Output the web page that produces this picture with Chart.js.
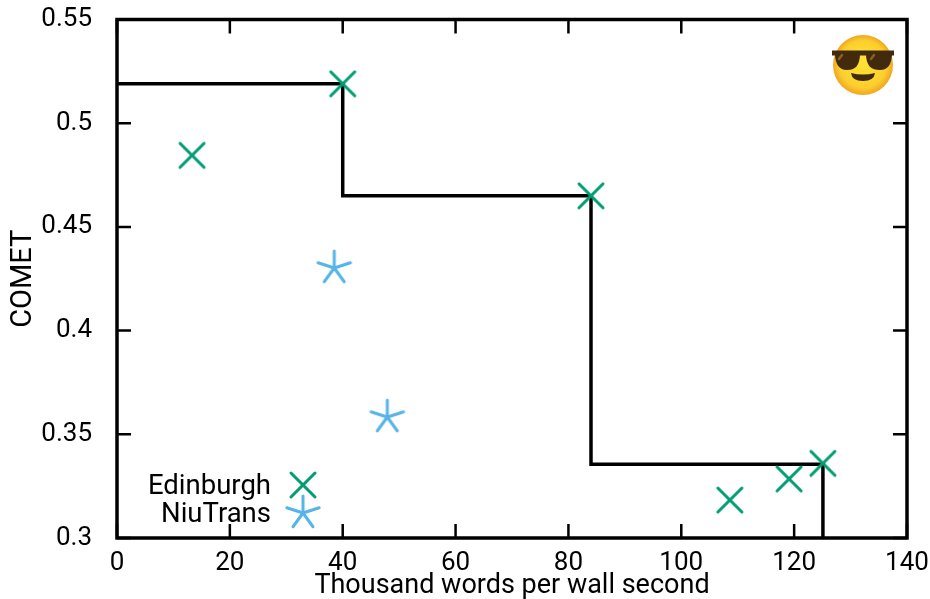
<!DOCTYPE html>
<html>
<head>
<meta charset="utf-8">
<style>
  html, body { margin: 0; padding: 0; background: #fff; }
  canvas { display: block; }
</style>
<script src="https://cdn.jsdelivr.net/npm/chart.js@4/dist/chart.umd.min.js"></script>
</head>
<body>
<canvas id="chart" width="930" height="599"></canvas>
<script>
const xTicks = [0, 20, 40, 60, 80, 100, 120, 140];
const yTicks = [0.3, 0.35, 0.4, 0.45, 0.5, 0.55];

const edinburghX = [13.3, 40, 84, 108.6, 119.1, 125.1];
const edinburghY = [0.4845, 0.519, 0.465, 0.3183, 0.3285, 0.336];
const niuTransX = [38.5, 47.9];
const niuTransY = [0.4302, 0.3583];
const frontierX = [0, 40, 84, 125.1];
const frontierY = [0.519, 0.465, 0.3355, 0.3];

const GREEN = '#009e73';
const BLUE = '#56b4e9';
const FONT = 'Roboto';
const TEXT_FONT = { family: FONT, size: 27, weight: '400' };
const TICK_FONT = { family: FONT, size: 26, weight: '400' };

function toPoints(xs, ys) {
    return xs.map((x, i) => ({ x: x, y: ys[i] }));
}

// gnuplot style markers, chart.js has no 5 arm star
function markerCanvas(color, arms, startAngle, radius) {
    const size = radius * 2 + 6;
    const c = document.createElement('canvas');
    c.width = size;
    c.height = size;
    const g = c.getContext('2d');
    g.strokeStyle = color;
    g.lineWidth = 3;
    g.lineCap = 'round';
    g.translate(size / 2, size / 2);
    for (let i = 0; i < arms; i++) {
        const a = startAngle + i * 2 * Math.PI / arms;
        g.beginPath();
        g.moveTo(0, 0);
        g.lineTo(radius * Math.cos(a), radius * Math.sin(a));
        g.stroke();
    }
    return c;
}

const crossMarker = markerCanvas(GREEN, 4, Math.PI / 4, 17);
const starMarker = markerCanvas(BLUE, 5, -Math.PI / 2, 17);

const innerTicks = {
    id: 'innerTicks',
    afterDatasetsDraw(chart) {
        const { ctx, chartArea: a, scales } = chart;
        const len = 14;
        ctx.save();
        ctx.strokeStyle = '#000';
        ctx.lineWidth = 2.5;
        ctx.beginPath();
        xTicks.forEach(v => {
            const px = scales.x.getPixelForValue(v);
            ctx.moveTo(px, a.bottom); ctx.lineTo(px, a.bottom - len);
            ctx.moveTo(px, a.top); ctx.lineTo(px, a.top + len);
        });
        yTicks.forEach(v => {
            const py = scales.y.getPixelForValue(v);
            ctx.moveTo(a.left, py); ctx.lineTo(a.left + len, py);
            ctx.moveTo(a.right, py); ctx.lineTo(a.right - len, py);
        });
        ctx.stroke();
        ctx.lineWidth = 3.5;
        ctx.strokeRect(a.left, a.top, a.right - a.left, a.bottom - a.top);
        ctx.restore();
    }
};

const keyBox = {
    id: 'keyBox',
    afterDatasetsDraw(chart) {
        const ctx = chart.ctx;
        const rows = [
            { label: 'Edinburgh', marker: crossMarker, y: 485 },
            { label: 'NiuTrans', marker: starMarker, y: 513 }
        ];
        ctx.save();
        ctx.font = '400 27.5px ' + FONT;
        ctx.fillStyle = '#000';
        ctx.textAlign = 'right';
        ctx.textBaseline = 'middle';
        rows.forEach(r => {
            ctx.fillText(r.label, 271, r.y + 2);
            ctx.drawImage(r.marker, 303 - r.marker.width / 2, r.y - r.marker.height / 2);
        });
        ctx.restore();
    }
};

// the sunglasses emoji in the corner, no colour emoji font is available
const emoji = {
    id: 'emoji',
    afterDatasetsDraw(chart) {
        const ctx = chart.ctx;
        const cx = 863, cy = 65, r = 30;
        ctx.save();
        const face = ctx.createRadialGradient(cx, cy - 4, 4, cx, cy, r);
        face.addColorStop(0, '#fee133');
        face.addColorStop(0.75, '#fbcf2e');
        face.addColorStop(1, '#f2a521');
        ctx.fillStyle = face;
        ctx.beginPath();
        ctx.arc(cx, cy, r, 0, Math.PI * 2);
        ctx.fill();

        ctx.fillStyle = '#422b0d';
        ctx.fillRect(832, 50.5, 62, 5);
        ctx.beginPath();
        ctx.moveTo(835, 53);
        ctx.lineTo(860, 53);
        ctx.bezierCurveTo(860, 66, 855, 70, 847, 70);
        ctx.bezierCurveTo(839, 70, 835, 64, 835, 53);
        ctx.fill();
        ctx.beginPath();
        ctx.moveTo(866, 53);
        ctx.lineTo(892, 53);
        ctx.bezierCurveTo(892, 64, 888, 70, 880, 70);
        ctx.bezierCurveTo(871, 70, 866, 66, 866, 53);
        ctx.fill();

        // smile
        ctx.beginPath();
        ctx.moveTo(851, 73);
        ctx.quadraticCurveTo(863, 76, 875, 73);
        ctx.quadraticCurveTo(874, 81, 863, 81);
        ctx.quadraticCurveTo(852, 81, 851, 73);
        ctx.fill();

        // lens highlights
        ctx.strokeStyle = '#896024';
        ctx.lineWidth = 2.5;
        ctx.lineCap = 'round';
        ctx.beginPath();
        ctx.moveTo(839, 59); ctx.lineTo(842, 55);
        ctx.moveTo(871, 59); ctx.lineTo(874, 55);
        ctx.stroke();
        ctx.restore();
    }
};

function noScalePadding(s) {
    s.paddingTop = 0;
    s.paddingBottom = 0;
    s.paddingLeft = 0;
    s.paddingRight = 0;
}

new Chart(document.getElementById('chart').getContext('2d'), {
    type: 'scatter',
    data: {
        datasets: [
            {
                label: 'frontier',
                type: 'line',
                data: toPoints(frontierX, frontierY),
                stepped: 'before',
                borderColor: '#000',
                borderWidth: 3.5,
                pointRadius: 0,
                fill: false,
                order: 3
            },
            {
                label: 'Edinburgh',
                data: toPoints(edinburghX, edinburghY),
                pointStyle: crossMarker,
                order: 1
            },
            {
                label: 'NiuTrans',
                data: toPoints(niuTransX, niuTransY),
                pointStyle: starMarker,
                order: 2
            }
        ]
    },
    options: {
        responsive: false,
        animation: false,
        layout: { padding: { top: 19.5, right: 23, left: 0, bottom: 0 } },
        plugins: {
            legend: { display: false },
            tooltip: { enabled: false }
        },
        scales: {
            x: {
                type: 'linear',
                min: 0,
                max: 140,
                afterFit(s) { s.height = 61; noScalePadding(s); },
                afterBuildTicks(s) { s.ticks = xTicks.map(v => ({ value: v })); },
                grid: { display: false },
                border: { display: false },
                ticks: {
                    autoSkip: false,
                    maxRotation: 0,
                    padding: 2,
                    color: '#000',
                    font: TICK_FONT
                },
                title: {
                    display: true,
                    text: 'Thousand words per wall second',
                    color: '#000',
                    padding: { top: 0, bottom: -3 },
                    font: TEXT_FONT
                }
            },
            y: {
                type: 'linear',
                min: 0.3,
                max: 0.55,
                afterFit(s) { s.width = 117; noScalePadding(s); },
                afterBuildTicks(s) { s.ticks = yTicks.map(v => ({ value: v })); },
                grid: { display: false },
                border: { display: false },
                ticks: {
                    autoSkip: false,
                    padding: 17,
                    color: '#000',
                    font: TICK_FONT,
                    callback: v => String(+v.toFixed(2))
                },
                title: {
                    display: true,
                    text: 'COMET',
                    color: '#000',
                    padding: { top: 6, bottom: 0 },
                    font: { family: FONT, size: 29, weight: '400' }
                }
            }
        }
    },
    plugins: [innerTicks, keyBox, emoji]
});
</script>
</body>
</html>
